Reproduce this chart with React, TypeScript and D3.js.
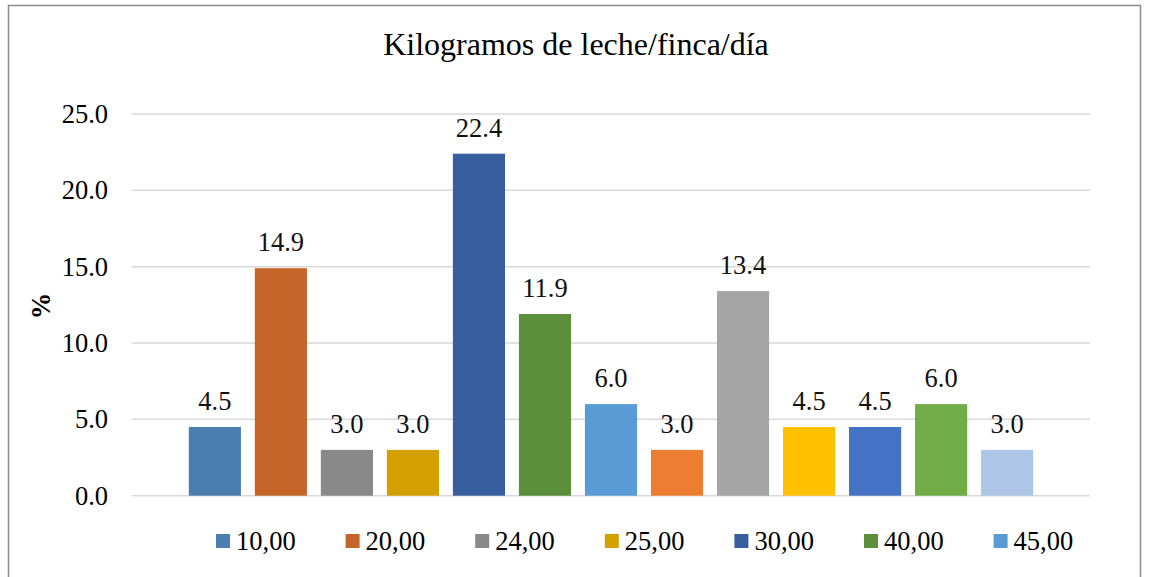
import * as d3 from "d3";
import { useEffect, useRef } from "react";

const title = "Kilogramos de leche/finca/día";
const seriesLabels = ["10,00", "20,00", "24,00", "25,00", "30,00", "40,00", "45,00"];
const values = [4.5, 14.9, 3.0, 3.0, 22.4, 11.9, 6.0, 3.0, 13.4, 4.5, 4.5, 6.0, 3.0];
const colors = [
  "#4a7eb0", "#c5652a", "#898989", "#d49f00", "#375e9f", "#5b8f3a", "#5b9bd5",
  "#ed7d31", "#a5a5a5", "#ffc000", "#4472c4", "#70ad47", "#adc5e6",
];
const yTicks = [0, 5, 10, 15, 20, 25];

const W = 1149;
const H = 577;
const FONT = "'Liberation Serif', 'Times New Roman', serif";

export default function App() {
  const svgRef = useRef<SVGSVGElement>(null);

  useEffect(() => {
    if (!svgRef.current) return;
    const svg = d3.select(svgRef.current);
    svg.selectAll("*").remove();

    const left = 132, right = 1090, top = 114, bottom = 495.7;

    svg.append("rect")
      .attr("x", 8.5).attr("y", 5.5)
      .attr("width", 1132).attr("height", 620)
      .attr("fill", "#fff").attr("stroke", "#8c8c8c").attr("stroke-width", 1.5);

    const yScale = d3.scaleLinear().domain([0, 25]).range([bottom, top]);
    const xScale = d3.scaleBand<number>()
      .domain(values.map((_, i) => i))
      .range([left, right])
      .paddingInner(0.21)
      .paddingOuter(0.86);

    svg.append("text")
      .attr("x", 576).attr("y", 55)
      .attr("text-anchor", "middle")
      .attr("font-family", FONT).attr("font-size", 32)
      .text(title);

    const grid = svg.append("g");
    grid.selectAll("line")
      .data(yTicks)
      .enter()
      .append("line")
      .attr("x1", left).attr("x2", right)
      .attr("y1", (d) => yScale(d)).attr("y2", (d) => yScale(d))
      .attr("stroke", "#d9d9d9").attr("stroke-width", 1.5);

    grid.selectAll("text")
      .data(yTicks)
      .enter()
      .append("text")
      .attr("x", 108)
      .attr("y", (d) => yScale(d) + 9)
      .attr("text-anchor", "end")
      .attr("font-family", FONT).attr("font-size", 26.5)
      .text((d) => d3.format(".1f")(d));

    svg.append("text")
      .attr("transform", "translate(50, 306) rotate(-90)")
      .attr("text-anchor", "middle")
      .attr("font-family", FONT).attr("font-size", 26.5).attr("font-weight", "bold")
      .text("%");

    svg.selectAll(".bar")
      .data(values)
      .enter()
      .append("rect")
      .attr("x", (_, i) => xScale(i)!)
      .attr("y", (d) => yScale(d))
      .attr("width", xScale.bandwidth())
      .attr("height", (d) => bottom - yScale(d))
      .attr("fill", (_, i) => colors[i]);

    svg.selectAll(".lbl")
      .data(values)
      .enter()
      .append("text")
      .attr("x", (_, i) => xScale(i)! + xScale.bandwidth() / 2)
      .attr("y", (d) => yScale(d) - 17)
      .attr("text-anchor", "middle")
      .attr("font-family", FONT).attr("font-size", 26.5)
      .attr("fill", "#111")
      .text((d) => d3.format(".1f")(d));

    const legend = svg.append("g");
    const items = legend.selectAll("g")
      .data(seriesLabels)
      .enter()
      .append("g")
      .attr("transform", (_, i) => `translate(${216 + i * 129.6}, 534)`);
    items.append("rect")
      .attr("width", 14).attr("height", 14)
      .attr("fill", (_, i) => colors[i]);
    items.append("text")
      .attr("x", 20).attr("y", 16)
      .attr("font-family", FONT).attr("font-size", 26.5)
      .text((d) => d);
  }, []);

  return (
    <svg
      ref={svgRef}
      width={W}
      height={H}
      style={{ position: "absolute", left: 0, top: 0, background: "#fff" }}
    />
  );
}
